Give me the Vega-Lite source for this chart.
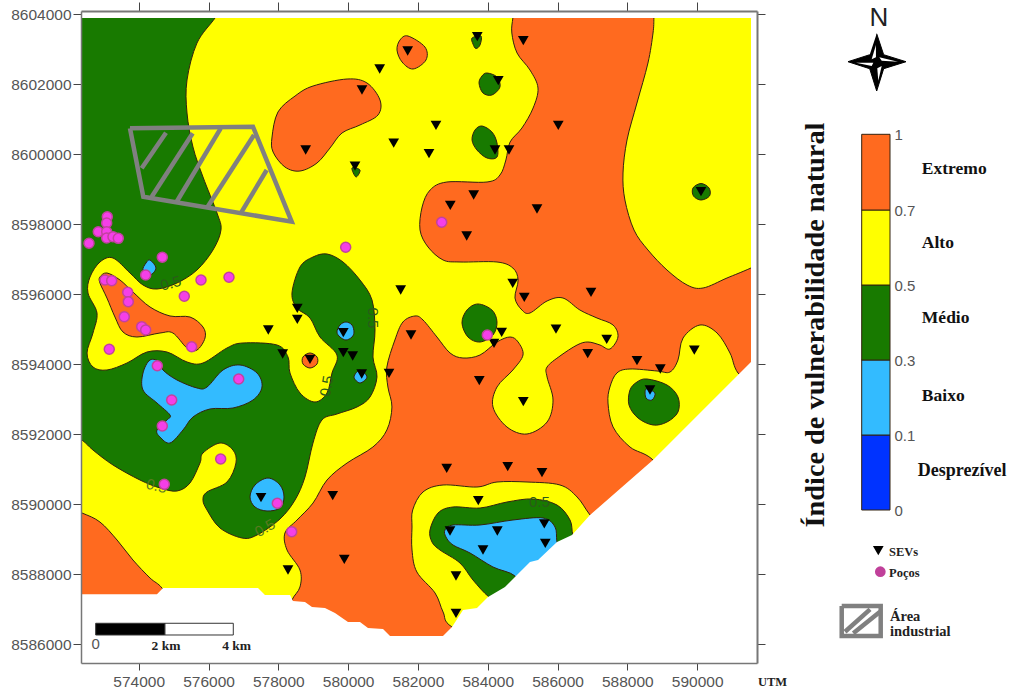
{"$schema":"https://vega.github.io/schema/vega-lite/v6.json","width":676,"height":652,"autosize":{"type":"none"},"padding":{"left":81,"top":11,"right":255,"bottom":33},"background":"white","config":{"view":{"stroke":null},"axis":{"grid":false}},
"datasets":{
"base":[{"x":572032,"y":8604409},{"x":592087,"y":8604409},{"x":592087,"y":8584981},{"x":572032,"y":8584981}],
"mask":[{"x":572032,"y":8604409},{"x":592087,"y":8604409},{"x":592087,"y":8584981},{"x":572032,"y":8584981},{"x":572032,"y":8604409},{"x":572375,"y":8603895},{"x":572375,"y":8587430},{"x":574524,"y":8587430},{"x":574696,"y":8587610},{"x":577418,"y":8587610},{"x":577618,"y":8587410},{"x":578335,"y":8587410},{"x":578420,"y":8587238},{"x":578764,"y":8587210},{"x":578965,"y":8587067},{"x":579337,"y":8587038},{"x":579624,"y":8586895},{"x":579996,"y":8586638},{"x":580340,"y":8586638},{"x":580569,"y":8586467},{"x":581000,"y":8586438},{"x":581200,"y":8586238},{"x":582718,"y":8586238},{"x":582976,"y":8586496},{"x":583291,"y":8586981},{"x":583692,"y":8587038},{"x":584007,"y":8587353},{"x":584494,"y":8587638},{"x":584780,"y":8587924},{"x":585210,"y":8588353},{"x":585440,"y":8588410},{"x":585984,"y":8588924},{"x":586414,"y":8589124},{"x":586930,"y":8589695},{"x":588734,"y":8591267},{"x":591542,"y":8594067},{"x":591542,"y":8603895},{"x":572375,"y":8603895},{"x":572032,"y":8604409}],
"zones":[
{"p":"o1","z":"Extremo","x":584780,"y":8604266},{"p":"o1","z":"Extremo","x":584720,"y":8603895},{"p":"o1","z":"Extremo","x":584690,"y":8603466},{"p":"o1","z":"Extremo","x":584840,"y":8602895},{"p":"o1","z":"Extremo","x":585210,"y":8602409},{"p":"o1","z":"Extremo","x":585440,"y":8601895},{"p":"o1","z":"Extremo","x":585300,"y":8601323},{"p":"o1","z":"Extremo","x":584980,"y":8600752},{"p":"o1","z":"Extremo","x":584640,"y":8600352},{"p":"o1","z":"Extremo","x":584520,"y":8599838},{"p":"o1","z":"Extremo","x":584350,"y":8599409},{"p":"o1","z":"Extremo","x":583980,"y":8599209},{"p":"o1","z":"Extremo","x":582830,"y":8599209},{"p":"o1","z":"Extremo","x":582350,"y":8598981},{"p":"o1","z":"Extremo","x":582120,"y":8598495},{"p":"o1","z":"Extremo","x":582060,"y":8597838},{"p":"o1","z":"Extremo","x":582290,"y":8597352},{"p":"o1","z":"Extremo","x":582720,"y":8596981},{"p":"o1","z":"Extremo","x":583205,"y":8596924},{"p":"o1","z":"Extremo","x":584265,"y":8596924},{"p":"o1","z":"Extremo","x":584720,"y":8596752},{"p":"o1","z":"Extremo","x":584870,"y":8596409},{"p":"o1","z":"Extremo","x":584780,"y":8595895},{"p":"o1","z":"Extremo","x":584980,"y":8595552},{"p":"o1","z":"Extremo","x":585210,"y":8595467},{"p":"o1","z":"Extremo","x":585700,"y":8595810},{"p":"o1","z":"Extremo","x":586155,"y":8595895},{"p":"o1","z":"Extremo","x":586640,"y":8595552},{"p":"o1","z":"Extremo","x":587130,"y":8595324},{"p":"o1","z":"Extremo","x":587590,"y":8595124},{"p":"o1","z":"Extremo","x":587730,"y":8594781},{"p":"o1","z":"Extremo","x":587500,"y":8594438},{"p":"o1","z":"Extremo","x":587215,"y":8594552},{"p":"o1","z":"Extremo","x":586870,"y":8594638},{"p":"o1","z":"Extremo","x":586560,"y":8594552},{"p":"o1","z":"Extremo","x":586070,"y":8594238},{"p":"o1","z":"Extremo","x":585700,"y":8593924},{"p":"o1","z":"Extremo","x":585700,"y":8593638},{"p":"o1","z":"Extremo","x":585870,"y":8592981},{"p":"o1","z":"Extremo","x":585700,"y":8592352},{"p":"o1","z":"Extremo","x":585125,"y":8592010},{"p":"o1","z":"Extremo","x":584550,"y":8592210},{"p":"o1","z":"Extremo","x":584150,"y":8592781},{"p":"o1","z":"Extremo","x":584265,"y":8593352},{"p":"o1","z":"Extremo","x":584720,"y":8593838},{"p":"o1","z":"Extremo","x":585010,"y":8594267},{"p":"o1","z":"Extremo","x":584870,"y":8594638},{"p":"o1","z":"Extremo","x":584640,"y":8594781},{"p":"o1","z":"Extremo","x":584265,"y":8594638},{"p":"o1","z":"Extremo","x":583780,"y":8594267},{"p":"o1","z":"Extremo","x":583290,"y":8594181},{"p":"o1","z":"Extremo","x":582920,"y":8594324},{"p":"o1","z":"Extremo","x":582545,"y":8594781},{"p":"o1","z":"Extremo","x":582145,"y":8595267},{"p":"o1","z":"Extremo","x":581915,"y":8595381},{"p":"o1","z":"Extremo","x":581570,"y":8595210},{"p":"o1","z":"Extremo","x":581340,"y":8594695},{"p":"o1","z":"Extremo","x":581110,"y":8593924},{"p":"o1","z":"Extremo","x":581140,"y":8593352},{"p":"o1","z":"Extremo","x":581255,"y":8592781},{"p":"o1","z":"Extremo","x":581110,"y":8592124},{"p":"o1","z":"Extremo","x":580710,"y":8591638},{"p":"o1","z":"Extremo","x":579970,"y":8591181},{"p":"o1","z":"Extremo","x":579395,"y":8590695},{"p":"o1","z":"Extremo","x":578995,"y":8590038},{"p":"o1","z":"Extremo","x":578535,"y":8589552},{"p":"o1","z":"Extremo","x":578190,"y":8589181},{"p":"o1","z":"Extremo","x":578250,"y":8588695},{"p":"o1","z":"Extremo","x":578620,"y":8588124},{"p":"o1","z":"Extremo","x":578620,"y":8587638},{"p":"o1","z":"Extremo","x":578390,"y":8587267},{"p":"o1","z":"Extremo","x":578190,"y":8586695},{"p":"o1","z":"Extremo","x":578620,"y":8585838},{"p":"o1","z":"Extremo","x":584350,"y":8585838},{"p":"o1","z":"Extremo","x":590080,"y":8590410},{"p":"o1","z":"Extremo","x":592085,"y":8593552},{"p":"o1","z":"Extremo","x":592660,"y":8595838},{"p":"o1","z":"Extremo","x":592660,"y":8597267},{"p":"o1","z":"Extremo","x":591540,"y":8596752},{"p":"o1","z":"Extremo","x":590855,"y":8596467},{"p":"o1","z":"Extremo","x":590170,"y":8596181},{"p":"o1","z":"Extremo","x":589710,"y":8596267},{"p":"o1","z":"Extremo","x":589135,"y":8596695},{"p":"o1","z":"Extremo","x":588590,"y":8597267},{"p":"o1","z":"Extremo","x":588190,"y":8597838},{"p":"o1","z":"Extremo","x":587930,"y":8598695},{"p":"o1","z":"Extremo","x":587875,"y":8599467},{"p":"o1","z":"Extremo","x":587990,"y":8600409},{"p":"o1","z":"Extremo","x":588275,"y":8601466},{"p":"o1","z":"Extremo","x":588590,"y":8602609},{"p":"o1","z":"Extremo","x":588735,"y":8603466},{"p":"o1","z":"Extremo","x":588760,"y":8603895},{"p":"o1","z":"Extremo","x":588760,"y":8604266},
{"p":"o2","z":"Extremo","x":571745,"y":8589981},{"p":"o2","z":"Extremo","x":572375,"y":8589753},{"p":"o2","z":"Extremo","x":572890,"y":8589495},{"p":"o2","z":"Extremo","x":573380,"y":8588981},{"p":"o2","z":"Extremo","x":573835,"y":8588410},{"p":"o2","z":"Extremo","x":574325,"y":8587895},{"p":"o2","z":"Extremo","x":574665,"y":8587610},{"p":"o2","z":"Extremo","x":575040,"y":8586980},{"p":"o2","z":"Extremo","x":571745,"y":8586980},
{"p":"o3","z":"Extremo","x":581715,"y":8603380},{"p":"o3","z":"Extremo","x":582200,"y":8603066},{"p":"o3","z":"Extremo","x":582230,"y":8602695},{"p":"o3","z":"Extremo","x":581860,"y":8602438},{"p":"o3","z":"Extremo","x":581545,"y":8602638},{"p":"o3","z":"Extremo","x":581400,"y":8602980},{"p":"o3","z":"Extremo","x":581486,"y":8603266},
{"p":"o4","z":"Extremo","x":579970,"y":8602152},{"p":"o4","z":"Extremo","x":580540,"y":8602038},{"p":"o4","z":"Extremo","x":580913,"y":8601552},{"p":"o4","z":"Extremo","x":580855,"y":8601123},{"p":"o4","z":"Extremo","x":580340,"y":8600838},{"p":"o4","z":"Extremo","x":579825,"y":8600610},{"p":"o4","z":"Extremo","x":579480,"y":8600180},{"p":"o4","z":"Extremo","x":579108,"y":8599752},{"p":"o4","z":"Extremo","x":578620,"y":8599523},{"p":"o4","z":"Extremo","x":578190,"y":8599638},{"p":"o4","z":"Extremo","x":577850,"y":8600066},{"p":"o4","z":"Extremo","x":577820,"y":8600495},{"p":"o4","z":"Extremo","x":577990,"y":8601209},{"p":"o4","z":"Extremo","x":578480,"y":8601666},{"p":"o4","z":"Extremo","x":578995,"y":8601952},
{"p":"o5","z":"Extremo","x":573090,"y":8596610},{"p":"o5","z":"Extremo","x":573464,"y":8596409},{"p":"o5","z":"Extremo","x":573836,"y":8596066},{"p":"o5","z":"Extremo","x":574324,"y":8595638},{"p":"o5","z":"Extremo","x":574897,"y":8595381},{"p":"o5","z":"Extremo","x":575470,"y":8595352},{"p":"o5","z":"Extremo","x":575842,"y":8595067},{"p":"o5","z":"Extremo","x":575900,"y":8594752},{"p":"o5","z":"Extremo","x":575670,"y":8594409},{"p":"o5","z":"Extremo","x":575384,"y":8594467},{"p":"o5","z":"Extremo","x":574980,"y":8594895},{"p":"o5","z":"Extremo","x":574610,"y":8594895},{"p":"o5","z":"Extremo","x":573950,"y":8594781},{"p":"o5","z":"Extremo","x":573550,"y":8594924},{"p":"o5","z":"Extremo","x":573320,"y":8595352},{"p":"o5","z":"Extremo","x":573090,"y":8595895},{"p":"o5","z":"Extremo","x":572890,"y":8596324},{"p":"o5","z":"Extremo","x":572890,"y":8596495},
{"p":"o6","z":"Extremo","x":578908,"y":8594324},{"p":"o6","z":"Extremo","x":579108,"y":8594210},{"p":"o6","z":"Extremo","x":579108,"y":8594010},{"p":"o6","z":"Extremo","x":578908,"y":8593895},{"p":"o6","z":"Extremo","x":578707,"y":8594010},{"p":"o6","z":"Extremo","x":578707,"y":8594210},
{"p":"y1","z":"Alto","x":581850,"y":8589839},{"p":"y1","z":"Alto","x":582145,"y":8590353},{"p":"y1","z":"Alto","x":582720,"y":8590553},{"p":"y1","z":"Alto","x":583690,"y":8590495},{"p":"y1","z":"Alto","x":584265,"y":8590638},{"p":"y1","z":"Alto","x":585125,"y":8590638},{"p":"y1","z":"Alto","x":586070,"y":8590553},{"p":"y1","z":"Alto","x":586560,"y":8590210},{"p":"y1","z":"Alto","x":586930,"y":8589695},{"p":"y1","z":"Alto","x":587500,"y":8588981},{"p":"y1","z":"Alto","x":584350,"y":8585838},{"p":"y1","z":"Alto","x":582975,"y":8586496},{"p":"y1","z":"Alto","x":582720,"y":8586924},{"p":"y1","z":"Alto","x":582490,"y":8587467},{"p":"y1","z":"Alto","x":581970,"y":8588067},{"p":"y1","z":"Alto","x":581830,"y":8588695},{"p":"y1","z":"Alto","x":581830,"y":8589352},
{"p":"y2","z":"Alto","x":587500,"y":8593352},{"p":"y2","z":"Alto","x":587700,"y":8593752},{"p":"y2","z":"Alto","x":588075,"y":8593867},{"p":"y2","z":"Alto","x":588850,"y":8593810},{"p":"y2","z":"Alto","x":589220,"y":8593781},{"p":"y2","z":"Alto","x":589450,"y":8594124},{"p":"y2","z":"Alto","x":589595,"y":8594752},{"p":"y2","z":"Alto","x":590081,"y":8595124},{"p":"y2","z":"Alto","x":590570,"y":8594895},{"p":"y2","z":"Alto","x":590940,"y":8594324},{"p":"y2","z":"Alto","x":591170,"y":8593752},{"p":"y2","z":"Alto","x":591800,"y":8593124},{"p":"y2","z":"Alto","x":589510,"y":8590410},{"p":"y2","z":"Alto","x":588705,"y":8591295},{"p":"y2","z":"Alto","x":588075,"y":8591638},{"p":"y2","z":"Alto","x":587590,"y":8592210},{"p":"y2","z":"Alto","x":587445,"y":8592895},
{"p":"g1","z":"Médio","x":571745,"y":8604266},{"p":"g1","z":"Médio","x":576386,"y":8604266},{"p":"g1","z":"Médio","x":576186,"y":8603895},{"p":"g1","z":"Médio","x":575670,"y":8603180},{"p":"g1","z":"Médio","x":575384,"y":8602124},{"p":"g1","z":"Médio","x":575384,"y":8601180},{"p":"g1","z":"Médio","x":575555,"y":8600209},{"p":"g1","z":"Médio","x":575842,"y":8599352},{"p":"g1","z":"Médio","x":576243,"y":8598324},{"p":"g1","z":"Médio","x":576357,"y":8597838},{"p":"g1","z":"Médio","x":576128,"y":8597267},{"p":"g1","z":"Médio","x":575670,"y":8596695},{"p":"g1","z":"Médio","x":575097,"y":8596324},{"p":"g1","z":"Médio","x":574524,"y":8596152},{"p":"g1","z":"Médio","x":574123,"y":8596267},{"p":"g1","z":"Médio","x":573750,"y":8596610},{"p":"g1","z":"Médio","x":573263,"y":8597038},{"p":"g1","z":"Médio","x":572891,"y":8596924},{"p":"g1","z":"Médio","x":572605,"y":8596495},{"p":"g1","z":"Médio","x":572547,"y":8596038},{"p":"g1","z":"Médio","x":572805,"y":8595467},{"p":"g1","z":"Médio","x":572690,"y":8594895},{"p":"g1","z":"Médio","x":572520,"y":8594324},{"p":"g1","z":"Médio","x":572690,"y":8593924},{"p":"g1","z":"Médio","x":573090,"y":8593838},{"p":"g1","z":"Médio","x":573665,"y":8594038},{"p":"g1","z":"Médio","x":574238,"y":8594352},{"p":"g1","z":"Médio","x":574810,"y":8594352},{"p":"g1","z":"Médio","x":575384,"y":8594067},{"p":"g1","z":"Médio","x":575842,"y":8594038},{"p":"g1","z":"Médio","x":576530,"y":8594467},{"p":"g1","z":"Médio","x":576988,"y":8594610},{"p":"g1","z":"Médio","x":577962,"y":8594552},{"p":"g1","z":"Médio","x":578277,"y":8594210},{"p":"g1","z":"Médio","x":578335,"y":8593752},{"p":"g1","z":"Médio","x":578621,"y":8593181},{"p":"g1","z":"Médio","x":579050,"y":8592924},{"p":"g1","z":"Médio","x":579395,"y":8593181},{"p":"g1","z":"Médio","x":579538,"y":8593752},{"p":"g1","z":"Médio","x":579680,"y":8594267},{"p":"g1","z":"Médio","x":579194,"y":8594781},{"p":"g1","z":"Médio","x":578908,"y":8595324},{"p":"g1","z":"Médio","x":578535,"y":8595610},{"p":"g1","z":"Médio","x":578392,"y":8596038},{"p":"g1","z":"Médio","x":578621,"y":8596781},{"p":"g1","z":"Médio","x":578993,"y":8597066},{"p":"g1","z":"Médio","x":579395,"y":8597152},{"p":"g1","z":"Médio","x":579853,"y":8596924},{"p":"g1","z":"Médio","x":580340,"y":8596409},{"p":"g1","z":"Médio","x":580684,"y":8595838},{"p":"g1","z":"Médio","x":580770,"y":8594981},{"p":"g1","z":"Médio","x":580712,"y":8594210},{"p":"g1","z":"Médio","x":580827,"y":8593638},{"p":"g1","z":"Médio","x":580627,"y":8593067},{"p":"g1","z":"Médio","x":580254,"y":8592781},{"p":"g1","z":"Médio","x":579680,"y":8592581},{"p":"g1","z":"Médio","x":579250,"y":8592410},{"p":"g1","z":"Médio","x":578993,"y":8591752},{"p":"g1","z":"Médio","x":578764,"y":8590781},{"p":"g1","z":"Médio","x":578478,"y":8590124},{"p":"g1","z":"Médio","x":578048,"y":8589581},{"p":"g1","z":"Médio","x":577390,"y":8589124},{"p":"g1","z":"Médio","x":576959,"y":8589038},{"p":"g1","z":"Médio","x":576329,"y":8589324},{"p":"g1","z":"Médio","x":575957,"y":8589839},{"p":"g1","z":"Médio","x":575842,"y":8590124},{"p":"g1","z":"Médio","x":575957,"y":8590353},{"p":"g1","z":"Médio","x":576530,"y":8590638},{"p":"g1","z":"Médio","x":576787,"y":8591181},{"p":"g1","z":"Médio","x":576701,"y":8591552},{"p":"g1","z":"Médio","x":576329,"y":8591752},{"p":"g1","z":"Médio","x":575842,"y":8591467},{"p":"g1","z":"Médio","x":575756,"y":8591181},{"p":"g1","z":"Médio","x":575470,"y":8590610},{"p":"g1","z":"Médio","x":575097,"y":8590381},{"p":"g1","z":"Médio","x":574610,"y":8590467},{"p":"g1","z":"Médio","x":574037,"y":8590695},{"p":"g1","z":"Médio","x":573263,"y":8591124},{"p":"g1","z":"Médio","x":572690,"y":8591552},{"p":"g1","z":"Médio","x":572375,"y":8591838},{"p":"g1","z":"Médio","x":571745,"y":8592267},
{"p":"g2","z":"Médio","x":583550,"y":8603323},{"p":"g2","z":"Médio","x":583807,"y":8603380},{"p":"g2","z":"Médio","x":583778,"y":8603123},{"p":"g2","z":"Médio","x":583660,"y":8603023},{"p":"g2","z":"Médio","x":583578,"y":8603152},
{"p":"g3","z":"Médio","x":583980,"y":8602323},{"p":"g3","z":"Médio","x":584265,"y":8602209},{"p":"g3","z":"Médio","x":584350,"y":8601923},{"p":"g3","z":"Médio","x":584120,"y":8601695},{"p":"g3","z":"Médio","x":583864,"y":8601752},{"p":"g3","z":"Médio","x":583750,"y":8602038},{"p":"g3","z":"Médio","x":583835,"y":8602238},
{"p":"g4","z":"Médio","x":583835,"y":8600809},{"p":"g4","z":"Médio","x":584120,"y":8600638},{"p":"g4","z":"Médio","x":584265,"y":8600323},{"p":"g4","z":"Médio","x":584265,"y":8599923},{"p":"g4","z":"Médio","x":583980,"y":8599895},{"p":"g4","z":"Médio","x":583690,"y":8600124},{"p":"g4","z":"Médio","x":583550,"y":8600409},{"p":"g4","z":"Médio","x":583635,"y":8600695},
{"p":"g5","z":"Médio","x":580110,"y":8599609},{"p":"g5","z":"Médio","x":580340,"y":8599552},{"p":"g5","z":"Médio","x":580225,"y":8599352},
{"p":"g6","z":"Médio","x":590110,"y":8599166},{"p":"g6","z":"Médio","x":590340,"y":8599038},{"p":"g6","z":"Médio","x":590353,"y":8598809},{"p":"g6","z":"Médio","x":590110,"y":8598695},{"p":"g6","z":"Médio","x":589895,"y":8598809},{"p":"g6","z":"Médio","x":589880,"y":8599038},
{"p":"g7","z":"Médio","x":583720,"y":8595724},{"p":"g7","z":"Médio","x":584120,"y":8595552},{"p":"g7","z":"Médio","x":584265,"y":8595210},{"p":"g7","z":"Médio","x":584150,"y":8594838},{"p":"g7","z":"Médio","x":583780,"y":8594638},{"p":"g7","z":"Médio","x":583434,"y":8594781},{"p":"g7","z":"Médio","x":583262,"y":8595181},{"p":"g7","z":"Médio","x":583405,"y":8595552},
{"p":"g8","z":"Médio","x":582345,"y":8589267},{"p":"g8","z":"Médio","x":582575,"y":8589753},{"p":"g8","z":"Médio","x":583005,"y":8589924},{"p":"g8","z":"Médio","x":583780,"y":8589895},{"p":"g8","z":"Médio","x":584550,"y":8590066},{"p":"g8","z":"Médio","x":585296,"y":8590153},{"p":"g8","z":"Médio","x":585984,"y":8589981},{"p":"g8","z":"Médio","x":586357,"y":8589553},{"p":"g8","z":"Médio","x":586441,"y":8589124},{"p":"g8","z":"Médio","x":586640,"y":8588695},{"p":"g8","z":"Médio","x":584494,"y":8587124},{"p":"g8","z":"Médio","x":584036,"y":8587353},{"p":"g8","z":"Médio","x":583577,"y":8587838},{"p":"g8","z":"Médio","x":583205,"y":8588324},{"p":"g8","z":"Médio","x":582632,"y":8588695},{"p":"g8","z":"Médio","x":582403,"y":8588924},
{"p":"g9","z":"Médio","x":588563,"y":8593581},{"p":"g9","z":"Médio","x":589135,"y":8593410},{"p":"g9","z":"Médio","x":589450,"y":8593067},{"p":"g9","z":"Médio","x":589450,"y":8592638},{"p":"g9","z":"Médio","x":589135,"y":8592352},{"p":"g9","z":"Médio","x":588735,"y":8592267},{"p":"g9","z":"Médio","x":588305,"y":8592467},{"p":"g9","z":"Médio","x":588047,"y":8592838},{"p":"g9","z":"Médio","x":588075,"y":8593267},{"p":"g9","z":"Médio","x":588276,"y":8593495},
{"p":"b1","z":"Baixo","x":574324,"y":8594124},{"p":"b1","z":"Baixo","x":574610,"y":8594067},{"p":"b1","z":"Baixo","x":574696,"y":8593838},{"p":"b1","z":"Baixo","x":575097,"y":8593552},{"p":"b1","z":"Baixo","x":575670,"y":8593324},{"p":"b1","z":"Baixo","x":575957,"y":8593352},{"p":"b1","z":"Baixo","x":576415,"y":8593838},{"p":"b1","z":"Baixo","x":576902,"y":8593981},{"p":"b1","z":"Baixo","x":577390,"y":8593752},{"p":"b1","z":"Baixo","x":577532,"y":8593352},{"p":"b1","z":"Baixo","x":577274,"y":8592981},{"p":"b1","z":"Baixo","x":576701,"y":8592752},{"p":"b1","z":"Baixo","x":576042,"y":8592724},{"p":"b1","z":"Baixo","x":575555,"y":8592495},{"p":"b1","z":"Baixo","x":575269,"y":8592124},{"p":"b1","z":"Baixo","x":574897,"y":8591752},{"p":"b1","z":"Baixo","x":574610,"y":8591924},{"p":"b1","z":"Baixo","x":574524,"y":8592124},{"p":"b1","z":"Baixo","x":574810,"y":8592410},{"p":"b1","z":"Baixo","x":574897,"y":8592552},{"p":"b1","z":"Baixo","x":574524,"y":8592895},{"p":"b1","z":"Baixo","x":574123,"y":8593267},{"p":"b1","z":"Baixo","x":574123,"y":8593752},
{"p":"b2","z":"Baixo","x":574324,"y":8596981},{"p":"b2","z":"Baixo","x":574495,"y":8596752},{"p":"b2","z":"Baixo","x":574324,"y":8596552},{"p":"b2","z":"Baixo","x":574123,"y":8596695},{"p":"b2","z":"Baixo","x":574209,"y":8596895},
{"p":"b3","z":"Baixo","x":577704,"y":8590752},{"p":"b3","z":"Baixo","x":578048,"y":8590553},{"p":"b3","z":"Baixo","x":578163,"y":8590210},{"p":"b3","z":"Baixo","x":578048,"y":8589895},{"p":"b3","z":"Baixo","x":577676,"y":8589810},{"p":"b3","z":"Baixo","x":577332,"y":8589924},{"p":"b3","z":"Baixo","x":577189,"y":8590210},{"p":"b3","z":"Baixo","x":577332,"y":8590553},
{"p":"b4","z":"Baixo","x":579939,"y":8595210},{"p":"b4","z":"Baixo","x":580111,"y":8595124},{"p":"b4","z":"Baixo","x":580168,"y":8594924},{"p":"b4","z":"Baixo","x":580111,"y":8594781},{"p":"b4","z":"Baixo","x":579939,"y":8594695},{"p":"b4","z":"Baixo","x":579767,"y":8594781},{"p":"b4","z":"Baixo","x":579680,"y":8594924},{"p":"b4","z":"Baixo","x":579767,"y":8595124},
{"p":"b5","z":"Baixo","x":580340,"y":8593838},{"p":"b5","z":"Baixo","x":580540,"y":8593638},{"p":"b5","z":"Baixo","x":580340,"y":8593467},{"p":"b5","z":"Baixo","x":580168,"y":8593638},
{"p":"b6","z":"Baixo","x":582775,"y":8589267},{"p":"b6","z":"Baixo","x":583005,"y":8589410},{"p":"b6","z":"Baixo","x":583778,"y":8589410},{"p":"b6","z":"Baixo","x":584723,"y":8589553},{"p":"b6","z":"Baixo","x":585583,"y":8589610},{"p":"b6","z":"Baixo","x":585927,"y":8589353},{"p":"b6","z":"Baixo","x":585984,"y":8588924},{"p":"b6","z":"Baixo","x":586127,"y":8588267},{"p":"b6","z":"Baixo","x":585068,"y":8587410},{"p":"b6","z":"Baixo","x":584780,"y":8587953},{"p":"b6","z":"Baixo","x":584150,"y":8588210},{"p":"b6","z":"Baixo","x":583492,"y":8588610},{"p":"b6","z":"Baixo","x":583005,"y":8588838},{"p":"b6","z":"Baixo","x":582803,"y":8589067},
{"p":"b7","z":"Baixo","x":588534,"y":8593295},{"p":"b7","z":"Baixo","x":588790,"y":8593181},{"p":"b7","z":"Baixo","x":588705,"y":8592981},{"p":"b7","z":"Baixo","x":588534,"y":8593038}
],
"hatch":[
{"p":"a","x":573750,"y":8600744},{"p":"a","x":577274,"y":8600789},{"p":"a","x":578383,"y":8598075},{"p":"a","x":574132,"y":8598789},{"p":"a","x":573750,"y":8600744},
{"p":"b","x":574782,"y":8600618},{"p":"b","x":574086,"y":8599600},
{"p":"c","x":575547,"y":8600600},{"p":"c","x":574372,"y":8598789},
{"p":"d","x":576349,"y":8600744},{"p":"d","x":575088,"y":8598646},
{"p":"e","x":577303,"y":8600552},{"p":"e","x":575948,"y":8598458},
{"p":"f","x":577667,"y":8599552},{"p":"f","x":576922,"y":8598315},
{"p":"k","x":594141,"y":8587096},{"p":"k","x":595258,"y":8587096},{"p":"k","x":595258,"y":8586239},{"p":"k","x":594141,"y":8586239},{"p":"k","x":594141,"y":8587096},
{"p":"l","x":594235,"y":8586361},{"p":"l","x":594952,"y":8587001},
{"p":"m","x":594473,"y":8586315},{"p":"m","x":595238,"y":8586933}],
"sev":[{"x":583700,"y":8603360},{"x":585019,"y":8603246},{"x":581706,"y":8602952},{"x":580904,"y":8602438},{"x":580397,"y":8601838},{"x":584302,"y":8602103},{"x":582517,"y":8600829},{"x":586021,"y":8600829},{"x":581305,"y":8600323},{"x":582317,"y":8600018},{"x":584208,"y":8600124},{"x":584609,"y":8600124},{"x":578784,"y":8600124},{"x":580197,"y":8599666},{"x":583597,"y":8598838},{"x":582927,"y":8598543},{"x":585411,"y":8598438},{"x":583397,"y":8597667},{"x":584715,"y":8596315},{"x":585047,"y":8595915},{"x":581506,"y":8596124},{"x":578544,"y":8595601},{"x":578544,"y":8595287},{"x":585955,"y":8595009},{"x":581801,"y":8594838},{"x":584399,"y":8594915},{"x":584179,"y":8594601},{"x":578125,"y":8594295},{"x":579862,"y":8594332},{"x":580131,"y":8594238},{"x":579862,"y":8594904},{"x":578907,"y":8594144},{"x":581171,"y":8593744},{"x":580389,"y":8593724},{"x":583758,"y":8593532},{"x":585019,"y":8592932},{"x":577713,"y":8594981},{"x":586958,"y":8596058},{"x":587408,"y":8594715},{"x":586864,"y":8594304},{"x":588276,"y":8594104},{"x":588944,"y":8593867},{"x":589918,"y":8594409},{"x":588649,"y":8593267},{"x":590109,"y":8598932},{"x":582824,"y":8591030},{"x":584572,"y":8591076},{"x":585554,"y":8590904},{"x":579558,"y":8590247},{"x":583729,"y":8590104},{"x":585620,"y":8589439},{"x":582919,"y":8589238},{"x":584274,"y":8589238},{"x":585649,"y":8588887},{"x":583864,"y":8588695},{"x":579890,"y":8588430},{"x":578277,"y":8588124},{"x":583090,"y":8587953},{"x":583090,"y":8586887},{"x":577504,"y":8590190},{"x":595189,"y":8588676}],
"wells":[{"x":573100,"y":8598218},{"x":573083,"y":8598038},{"x":572842,"y":8597789},{"x":573083,"y":8597789},{"x":573083,"y":8597609},{"x":573263,"y":8597647},{"x":573415,"y":8597600},{"x":572576,"y":8597458},{"x":574676,"y":8597058},{"x":574200,"y":8596552},{"x":575785,"y":8596409},{"x":576587,"y":8596487},{"x":575306,"y":8595944},{"x":573034,"y":8596409},{"x":573226,"y":8596390},{"x":573685,"y":8596058},{"x":573702,"y":8595790},{"x":573587,"y":8595361},{"x":574086,"y":8595076},{"x":574200,"y":8594981},{"x":575518,"y":8594504},{"x":573157,"y":8594430},{"x":574533,"y":8593961},{"x":576865,"y":8593581},{"x":574945,"y":8592981},{"x":574676,"y":8592238},{"x":576349,"y":8591295},{"x":574733,"y":8590572},{"x":577971,"y":8590030},{"x":578383,"y":8589219},{"x":579930,"y":8597344},{"x":583987,"y":8594838},{"x":582681,"y":8598058}],
"star":[{"x":595143,"y":8603446},{"x":595343,"y":8602846},{"x":595983,"y":8602646},{"x":595343,"y":8602446},{"x":595143,"y":8601809},{"x":594943,"y":8602446},{"x":594321,"y":8602646},{"x":594943,"y":8602846}],
"shards":[{"p":"1","x":595122,"y":8603123},{"p":"1","x":594999,"y":8602715},{"p":"1","x":595122,"y":8602772},{"p":"2","x":595218,"y":8602772},{"p":"2","x":595754,"y":8602646},{"p":"2","x":595286,"y":8602675},{"p":"3","x":594550,"y":8602618},{"p":"3","x":595046,"y":8602618},{"p":"3","x":594999,"y":8602523},{"p":"4","x":595286,"y":8602523},{"p":"4","x":595189,"y":8602103},{"p":"4","x":595160,"y":8602458}],
"classes":[{"c":"i","z":"Desprezível","lo":0,"hi":0.1},{"c":"i","z":"Baixo","lo":0.1,"hi":0.3},{"c":"i","z":"Médio","lo":0.3,"hi":0.5},{"c":"i","z":"Alto","lo":0.5,"hi":0.7},{"c":"i","z":"Extremo","lo":0.7,"hi":1}]
},
"layer":[
{"encoding":{"x":{"field":"x","type":"quantitative","scale":{"domain":[572347,591714],"nice":false,"zero":false},"axis":null},"y":{"field":"y","type":"quantitative","scale":{"domain":[8585467,8604095],"nice":false,"zero":false},"axis":null}},
"resolve":{"axis":{"x":"independent","y":"independent"}},
"layer":[
{"data":{"name":"base"},"transform":[{"window":[{"op":"row_number","as":"i"}]}],"mark":{"type":"line","fill":"#ffff00","stroke":null,"strokeWidth":0,"clip":true},
"encoding":{"order":{"field":"i"},
"x":{"field":"x","type":"quantitative","scale":{"domain":[572347,591714],"nice":false,"zero":false},"axis":{"orient":"bottom","title":null,"values":[574000,576000,578000,580000,582000,584000,586000,588000,590000],"format":"d","zindex":1,"tickSize":7,"tickColor":"#444","domainColor":"#777","domainWidth":1.5,"labelFont":"Liberation Sans","labelFontSize":15.5,"labelColor":"#555","labelPadding":4,"labelOverlap":false}},
"y":{"field":"y","type":"quantitative","scale":{"domain":[8585467,8604095],"nice":false,"zero":false},"axis":{"orient":"left","title":null,"values":[8586000,8588000,8590000,8592000,8594000,8596000,8598000,8600000,8602000,8604000],"format":"d","zindex":1,"tickSize":8,"tickColor":"#444","domainColor":"#777","domainWidth":1.5,"labelFont":"Liberation Sans","labelFontSize":15.5,"labelColor":"#555","labelPadding":2,"labelOverlap":false}}}},
{"data":{"name":"zones"},"transform":[{"window":[{"op":"row_number","as":"i"}]}],"mark":{"type":"line","interpolate":"cardinal-closed","stroke":"#33220f","strokeWidth":1,"clip":true},
"encoding":{"order":{"field":"i"},"detail":{"field":"p"},"fill":{"field":"z","type":"nominal","legend":null,"scale":{"domain":["Extremo","Alto","Médio","Baixo","Desprezível"],"range":["#ff6a1f","#ffff00","#187a00","#33bbff","#0033ff"]}}}},
{"data":{"name":"mask"},"transform":[{"window":[{"op":"row_number","as":"i"}]}],"mark":{"type":"line","fill":"#ffffff","stroke":null,"strokeWidth":0,"clip":true},
"encoding":{"order":{"field":"i"},
"x":{"field":"x","type":"quantitative","scale":{"domain":[572347,591714],"nice":false,"zero":false},"axis":{"orient":"top","title":null,"values":[574000,576000,578000,580000,582000,584000,586000,588000,590000],"labels":false,"zindex":1,"tickSize":9,"tickColor":"#444","domainColor":"#777","domainWidth":2}},
"y":{"field":"y","type":"quantitative","scale":{"domain":[8585467,8604095],"nice":false,"zero":false},"axis":{"orient":"right","title":null,"values":[8586000,8588000,8590000,8592000,8594000,8596000,8598000,8600000,8602000,8604000],"labels":false,"zindex":1,"tickSize":8,"tickColor":"#444","domainColor":"#777","domainWidth":2}}}},
{"data":{"name":"hatch"},"transform":[{"window":[{"op":"row_number","as":"i"}]}],"mark":{"type":"line","stroke":"#808080","strokeWidth":4.5,"strokeJoin":"miter"},"encoding":{"order":{"field":"i"},"detail":{"field":"p"}}},
{"data":{"values":[{"x":574917,"y":8596315,"t":"0.5"}]},"mark":{"type":"text","angle":345,"font":"Liberation Sans","fontSize":15,"color":"#2b5a1a"},"encoding":{"text":{"field":"t"}}},
{"data":{"values":[{"x":574515,"y":8590524,"t":"0.5"}]},"mark":{"type":"text","angle":15,"font":"Liberation Sans","fontSize":15,"color":"#5a7a20"},"encoding":{"text":{"field":"t"}}},
{"data":{"values":[{"x":577618,"y":8589324,"t":"0.5"}]},"mark":{"type":"text","angle":330,"font":"Liberation Sans","fontSize":15,"color":"#5a7a20"},"encoding":{"text":{"field":"t"}}},
{"data":{"values":[{"x":580721,"y":8595324,"t":"0.5"}]},"mark":{"type":"text","angle":90,"font":"Liberation Sans","fontSize":15,"color":"#2b5a1a"},"encoding":{"text":{"field":"t"}}},
{"data":{"values":[{"x":579386,"y":8593381,"t":"0.5"}]},"mark":{"type":"text","angle":280,"font":"Liberation Sans","fontSize":15,"color":"#2b5a1a"},"encoding":{"text":{"field":"t"}}},
{"data":{"values":[{"x":585477,"y":8590076,"t":"0.5"}]},"mark":{"type":"text","font":"Liberation Sans","fontSize":15,"color":"#2b5a1a"},"encoding":{"text":{"field":"t"}}},
{"data":{"values":[{"x":572768,"x2":574753,"y":8586602,"y2":8586267}]},"mark":{"type":"rect","fill":"#000000","stroke":"#333","strokeWidth":1},"encoding":{"x2":{"field":"x2"},"y2":{"field":"y2"}}},
{"data":{"values":[{"x":574753,"x2":576710,"y":8586602,"y2":8586267}]},"mark":{"type":"rect","fill":"#ffffff","stroke":"#333","strokeWidth":1},"encoding":{"x2":{"field":"x2"},"y2":{"field":"y2"}}},
{"data":{"values":[{"x":572768,"y":8586010,"t":"0"}]},"mark":{"type":"text","font":"Liberation Sans","fontSize":15,"color":"#555"},"encoding":{"text":{"field":"t"}}},
{"data":{"values":[{"x":574782,"y":8585953,"t":"2 km"},{"x":576807,"y":8585953,"t":"4 km"}]},"mark":{"type":"text","font":"Liberation Serif","fontWeight":"bold","fontSize":13.5,"color":"#222"},"encoding":{"text":{"field":"t"}}},
{"data":{"name":"sev"},"mark":{"type":"point","shape":"triangle-down","filled":true,"size":115,"color":"#000000","opacity":1},"encoding":{}},
{"data":{"name":"wells"},"mark":{"type":"point","shape":"circle","filled":true,"size":100,"fill":"#f53fe8","stroke":"#c2429e","strokeWidth":1.5,"opacity":1},"encoding":{}},
{"data":{"values":[{"x":595247,"y":8588076}]},"mark":{"type":"point","shape":"circle","filled":true,"size":115,"color":"#c0409a","opacity":1},"encoding":{}},
{"data":{"name":"star"},"transform":[{"window":[{"op":"row_number","as":"i"}]}],"mark":{"type":"line","fill":"#000000","stroke":"#000000","strokeWidth":1},"encoding":{"order":{"field":"i"}}},
{"data":{"name":"shards"},"transform":[{"window":[{"op":"row_number","as":"i"}]}],"mark":{"type":"line","fill":"#ffffff","stroke":null,"strokeWidth":0},"encoding":{"order":{"field":"i"},"detail":{"field":"p"}}},
{"data":{"values":[{"x":595209,"y":8603895,"t":"N"}]},"mark":{"type":"text","font":"Liberation Sans","fontSize":26,"color":"#222"},"encoding":{"text":{"field":"t"}}},
{"data":{"values":[{"x":593404,"y":8595124,"t":"Índice de vulnerabilidade natural"}]},"mark":{"type":"text","angle":270,"font":"Liberation Serif","fontWeight":"bold","fontSize":28.3,"color":"#111"},"encoding":{"text":{"field":"t"}}},
{"data":{"values":[{"x":595496,"y":8588638,"t":"SEVs"},{"x":595496,"y":8588038,"t":"Poços"},{"x":591742,"y":8584925,"t":"UTM"}]},"mark":{"type":"text","align":"left","font":"Liberation Serif","fontWeight":"bold","fontSize":12.5,"color":"#222"},"encoding":{"text":{"field":"t"}}},
{"data":{"values":[{"x":595525,"y":8586781,"t":"Área"},{"x":595525,"y":8586352,"t":"industrial"}]},"mark":{"type":"text","align":"left","font":"Liberation Serif","fontWeight":"bold","fontSize":14.5,"color":"#222"},"encoding":{"text":{"field":"t"}}}
]},
{"encoding":{"x":{"field":"c","type":"nominal","scale":{"range":[780.7,809],"paddingInner":0,"paddingOuter":0},"axis":null}},
"layer":[
{"data":{"name":"classes"},"mark":{"type":"rect","stroke":"#33220f","strokeWidth":1},"encoding":{"y":{"field":"lo","type":"quantitative","scale":{"type":"linear","domain":[0,0.1,0.3,0.5,0.7,1],"range":[499,424,349,274,199,123.3]},"axis":{"orient":"right","offset":133,"title":null,"values":[0,0.1,0.3,0.5,0.7,1],"format":"~g","domain":false,"ticks":false,"labelPadding":4,"labelFont":"Liberation Sans","labelFontSize":15,"labelColor":"#555"}},"y2":{"field":"hi"},"fill":{"field":"z","type":"nominal","legend":null,"scale":{"domain":["Extremo","Alto","Médio","Baixo","Desprezível"],"range":["#ff6a1f","#ffff00","#187a00","#33bbff","#0033ff"]}}}},
{"data":{"values":[{"c":"i","v":0.862,"t":"Extremo"},{"c":"i","v":0.612,"t":"Alto"},{"c":"i","v":0.412,"t":"Médio"},{"c":"i","v":0.204,"t":"Baixo"}]},"mark":{"type":"text","align":"left","dx":46,"font":"Liberation Serif","fontWeight":"bold","fontSize":17.5,"color":"#111"},"encoding":{"y":{"field":"v","type":"quantitative"},"text":{"field":"t"}}},
{"data":{"values":[{"c":"i","v":0.052,"t":"Desprezível"}]},"mark":{"type":"text","align":"left","dx":42,"font":"Liberation Serif","fontWeight":"bold","fontSize":18,"color":"#111"},"encoding":{"y":{"field":"v","type":"quantitative"},"text":{"field":"t"}}}
]}
],
"resolve":{"scale":{"x":"independent","y":"independent"},"axis":{"x":"independent","y":"independent"}}
}
